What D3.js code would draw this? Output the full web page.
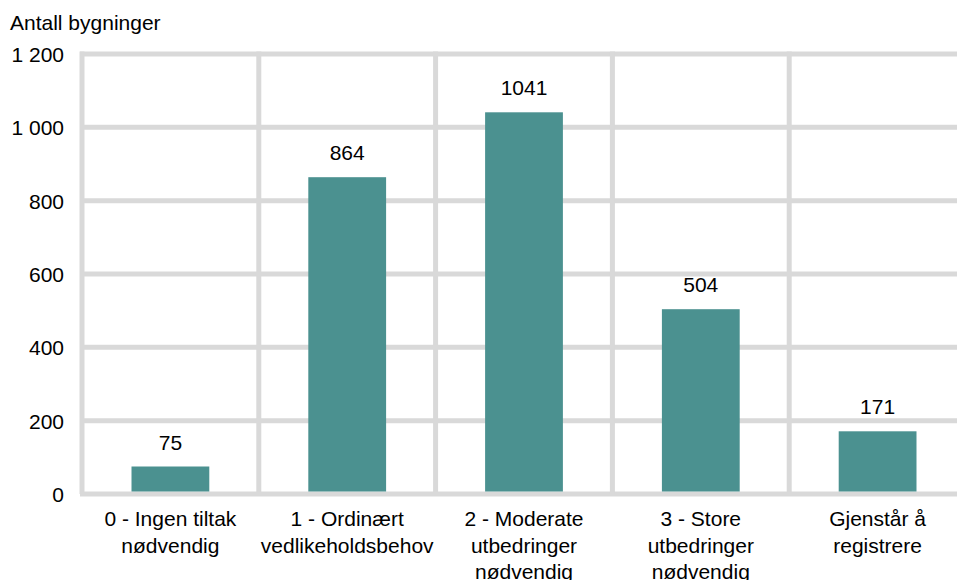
<!DOCTYPE html>
<html>
<head>
<meta charset="utf-8">
<script src="https://cdn.jsdelivr.net/npm/d3@7"></script>
<style>
  body { margin: 0; background: #fff; }
  text { font-family: "Liberation Sans", Arial, sans-serif; fill: #000; }
</style>
</head>
<body>
<script>
// data
var categories = [
  ["0 - Ingen tiltak", "nødvendig"],
  ["1 - Ordinært", "vedlikeholdsbehov"],
  ["2 - Moderate", "utbedringer", "nødvendig"],
  ["3 - Store", "utbedringer", "nødvendig"],
  ["Gjenstår å", "registrere"]
];
var values = [75, 864, 1041, 504, 171];
var yTicks = [0, 200, 400, 600, 800, 1000, 1200];
var yTitle = "Antall bygninger";

var width = 957, height = 580;
var plotLeft = 82, plotRight = 966, plotTop = 54, plotBottom = 494;
var gridColor = "#d9d9d9";
var barColor = "#4b9190";
var fontSize = "21px";

var svg = d3.select("body").append("svg")
  .attr("width", width)
  .attr("height", height);

var x = d3.scaleBand()
  .domain(d3.range(values.length))
  .range([plotLeft, plotRight])
  .paddingInner(0)
  .paddingOuter(0);

var y = d3.scaleLinear()
  .domain([0, 1200])
  .range([plotBottom, plotTop]);

var fmt = function (d) {
  return d3.format(",")(d).replace(/,/g, " ");
};

// horizontal grid
svg.append("g").selectAll("line").data(yTicks).enter().append("line")
  .attr("x1", plotLeft - 2)
  .attr("x2", plotRight)
  .attr("y1", function (d) { return y(d); })
  .attr("y2", function (d) { return y(d); })
  .attr("stroke", gridColor)
  .attr("stroke-width", 5);

// vertical separators
var seps = d3.range(values.length + 1);
svg.append("g").selectAll("line").data(seps).enter().append("line")
  .attr("x1", function (d) { return plotLeft + d * x.bandwidth(); })
  .attr("x2", function (d) { return plotLeft + d * x.bandwidth(); })
  .attr("y1", plotTop - 2.5)
  .attr("y2", plotBottom)
  .attr("stroke", gridColor)
  .attr("stroke-width", 5);

// y tick labels
var yAxis = d3.axisLeft(y).tickValues(yTicks).tickFormat(fmt).tickSize(0).tickPadding(0);
var ya = svg.append("g").attr("transform", "translate(64,0)").call(yAxis);
ya.select(".domain").remove();
ya.selectAll("text")
  .attr("font-size", fontSize)
  .attr("font-family", "Liberation Sans, Arial, sans-serif")
  .attr("fill", "#000")
  .attr("dy", "0.35em");

// axis title
svg.append("text")
  .attr("x", 10)
  .attr("y", 30)
  .attr("font-size", fontSize)
  .text(yTitle);

// bars
var bw = x.bandwidth() * 0.44;
svg.append("g").selectAll("rect").data(values).enter().append("rect")
  .attr("x", function (d, i) { return x(i) + (x.bandwidth() - bw) / 2; })
  .attr("y", function (d) { return y(d); })
  .attr("width", bw)
  .attr("height", function (d) { return plotBottom - 2.5 - y(d); })
  .attr("fill", barColor);

// value labels
svg.append("g").selectAll("text").data(values).enter().append("text")
  .attr("x", function (d, i) { return x(i) + x.bandwidth() / 2; })
  .attr("y", function (d) { return y(d) - 17; })
  .attr("text-anchor", "middle")
  .attr("font-size", fontSize)
  .text(function (d) { return d; });

// category labels
var cat = svg.append("g").selectAll("text").data(categories).enter().append("text")
  .attr("x", function (d, i) { return x(i) + x.bandwidth() / 2; })
  .attr("y", 526)
  .attr("text-anchor", "middle")
  .attr("font-size", fontSize);
cat.selectAll("tspan").data(function (d) { return d; }).enter().append("tspan")
  .attr("x", function () { return this.parentNode.getAttribute("x"); })
  .attr("dy", function (d, i) { return i === 0 ? 0 : 26.5; })
  .text(function (d) { return d; });
</script>
</body>
</html>
